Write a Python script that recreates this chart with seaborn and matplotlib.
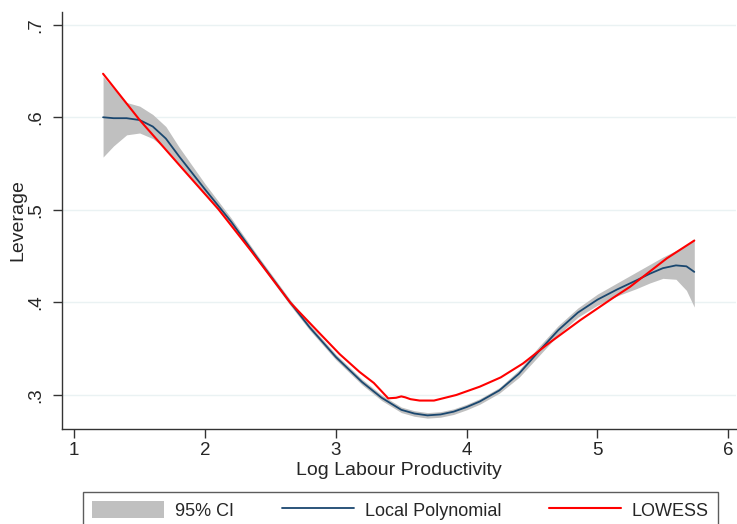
import pandas as pd
import seaborn as sns
import matplotlib.pyplot as plt

# Local polynomial fit with 95% CI
lp_x = [1.22, 1.30, 1.40, 1.50, 1.60, 1.70, 1.80, 1.90, 2.00, 2.20, 2.40, 2.65,
        2.80, 3.00, 3.20, 3.35, 3.50, 3.60, 3.70, 3.80, 3.90, 4.00, 4.10, 4.25,
        4.40, 4.55, 4.70, 4.85, 5.00, 5.15, 5.30, 5.40, 5.50, 5.60, 5.68, 5.74]
lp_y = [0.600, 0.599, 0.599, 0.597, 0.590, 0.577, 0.558, 0.540, 0.522, 0.487, 0.448, 0.400,
        0.373, 0.341, 0.314, 0.297, 0.284, 0.280, 0.278, 0.279, 0.282, 0.287, 0.293, 0.305,
        0.323, 0.347, 0.370, 0.389, 0.403, 0.414, 0.424, 0.431, 0.437, 0.440, 0.439, 0.433]
ci_hi = [0.644, 0.631, 0.616, 0.612, 0.603, 0.590, 0.568, 0.548, 0.528, 0.491, 0.451, 0.403,
         0.376, 0.344, 0.317, 0.300, 0.287, 0.283, 0.281, 0.282, 0.285, 0.290, 0.296, 0.308,
         0.327, 0.352, 0.375, 0.394, 0.409, 0.421, 0.433, 0.441, 0.449, 0.456, 0.462, 0.469]
ci_lo = [0.557, 0.569, 0.581, 0.583, 0.577, 0.566, 0.549, 0.532, 0.516, 0.483, 0.445, 0.397,
         0.370, 0.338, 0.311, 0.294, 0.281, 0.277, 0.275, 0.276, 0.279, 0.284, 0.290, 0.302,
         0.319, 0.342, 0.365, 0.384, 0.397, 0.407, 0.415, 0.421, 0.426, 0.425, 0.413, 0.395]

# LOWESS fit
lw_x = [1.22, 1.50, 1.83, 2.10, 2.35, 2.65, 2.88, 3.03, 3.18, 3.29, 3.40, 3.46, 3.50,
        3.53, 3.57, 3.64, 3.75, 3.92, 4.10, 4.26, 4.43, 4.61, 4.87, 5.12, 5.25, 5.53, 5.74]
lw_y = [0.647, 0.597, 0.544, 0.501, 0.456, 0.400, 0.366, 0.344, 0.325, 0.313, 0.2964, 0.297, 0.2985,
        0.2975, 0.2955, 0.294, 0.294, 0.300, 0.309, 0.319, 0.334, 0.354, 0.381, 0.405, 0.417, 0.4476, 0.4668]

x_ticks = [1, 2, 3, 4, 5, 6]
y_ticks = [0.3, 0.4, 0.5, 0.6, 0.7]
y_labels = [".3", ".4", ".5", ".6", ".7"]

sns.set_style("white")
plt.rcParams["font.family"] = ["Liberation Sans", "DejaVu Sans"]

lp = pd.DataFrame({"x": lp_x, "y": lp_y, "lo": ci_lo, "hi": ci_hi})
lw = pd.DataFrame({"x": lw_x, "y": lw_y})

fig = plt.figure(figsize=(7.37, 5.24), dpi=100)
ax = fig.add_axes([62 / 737, 1 - 428.7 / 524, (736 - 62) / 737, (428.7 - 12) / 524])

ax.fill_between(lp["x"], lp["lo"], lp["hi"], color="#c0c0c0", lw=0, label="95% CI")
sns.lineplot(data=lp, x="x", y="y", ax=ax, color="#1a476f", lw=1.3, label="Local Polynomial")
sns.lineplot(data=lw, x="x", y="y", ax=ax, color="#ff0000", lw=1.5, label="LOWESS")

ax.set_xlim(0.906, 6.059)
ax.set_ylim(0.2636, 0.7137)
ax.set_xticks(x_ticks)
ax.set_yticks(y_ticks)
ax.set_yticklabels(y_labels, rotation=90, va="center")
ax.tick_params(axis="both", labelsize=13.5, length=6.5, width=1, color="#333333",
               direction="out", left=True, bottom=True)
ax.tick_params(axis="y", pad=6)
ax.tick_params(axis="x", pad=3)
ax.yaxis.grid(True, color="#eaf2f3", lw=1)
ax.xaxis.grid(False)
ax.set_axisbelow(True)
for s in ["top", "right"]:
    ax.spines[s].set_visible(False)
for s in ["left", "bottom"]:
    ax.spines[s].set_color("#333333")
    ax.spines[s].set_linewidth(1)

ax.set_xlabel("Log Labour Productivity", fontsize=14, labelpad=2)
ax.set_ylabel("Leverage", fontsize=14, labelpad=1)

handles, labels = ax.get_legend_handles_labels()
ax.get_legend().remove()
fig.legend(handles, labels, loc="upper left", ncol=3, mode="expand",
           bbox_to_anchor=(83 / 737, 1 - 492 / 524, (718 - 83) / 737, 0),
           fontsize=13, frameon=True, fancybox=False, edgecolor="#333333",
           handlelength=4.0, handleheight=1.1, handletextpad=0.6,
           borderpad=0.5, borderaxespad=0)

fig.savefig("out.png", dpi=100)
